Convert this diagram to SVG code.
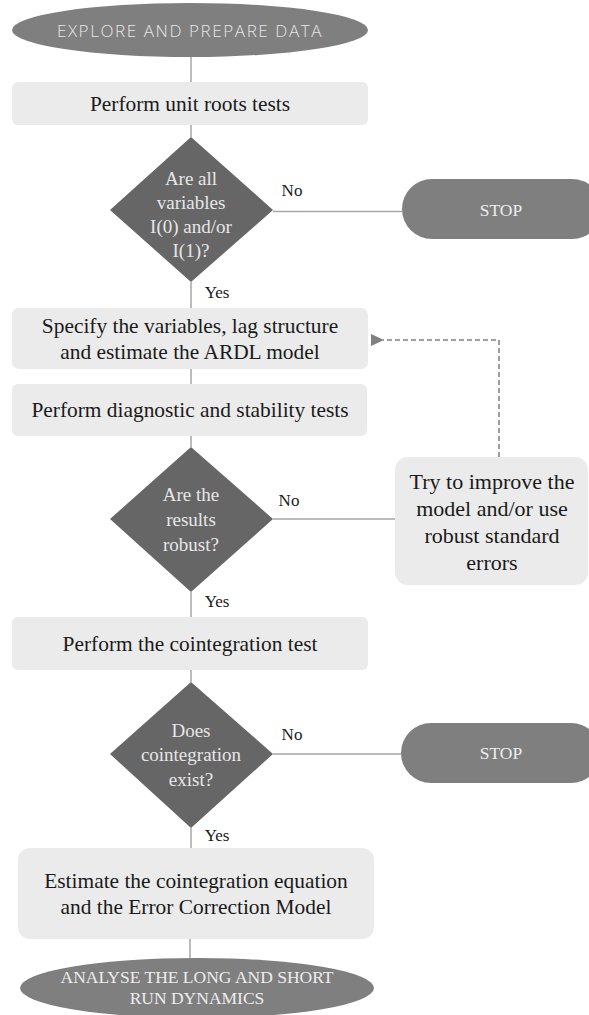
<svg xmlns="http://www.w3.org/2000/svg" width="589" height="1015" viewBox="0 0 589 1015">
<style>
.box{fill:#ebebeb}
.dia{fill:#666666}
.term{fill:#7f7f7f}
.bt{font-family:"Liberation Serif",serif;font-size:21.4px;fill:#1a1a1a;text-anchor:middle;dominant-baseline:central}
.rt{font-family:"Liberation Serif",serif;font-size:22px;fill:#1a1a1a;text-anchor:middle;dominant-baseline:central}
.dt{font-family:"Liberation Serif",serif;font-size:19px;fill:#e6e6e6;text-anchor:middle;dominant-baseline:central}
.tt{font-family:"Liberation Serif",serif;font-size:17.5px;fill:#ededed;text-anchor:middle;dominant-baseline:central}
.st{font-family:"Open Sans","Liberation Sans",sans-serif;font-weight:300;font-size:17px;letter-spacing:1.6px;fill:#e6e6e6;text-anchor:middle;dominant-baseline:central}
.lbl{font-family:"Liberation Serif",serif;font-size:17px;fill:#1a1a1a;text-anchor:middle;dominant-baseline:central}
.ln{stroke:#a6a6a6;stroke-width:1.5;fill:none}
.dash{stroke:#808080;stroke-width:1.5;stroke-dasharray:5 3;fill:none}
</style>
<defs>
<marker id="ah" markerWidth="14" markerHeight="12" refX="1" refY="6" orient="auto-start-reverse" markerUnits="userSpaceOnUse">
<path d="M0,6 L13,0 L13,12 Z" fill="#808080"/>
</marker>
</defs>
<g id="connectors">
<line class="ln" x1="191" y1="57" x2="191" y2="82"/>
<line class="ln" x1="191" y1="125" x2="191" y2="137"/>
<line class="ln" x1="191" y1="282" x2="191" y2="308"/>
<line class="ln" x1="273" y1="211.5" x2="402" y2="211.5"/>
<line class="ln" x1="191" y1="369" x2="191" y2="384"/>
<line class="ln" x1="191" y1="436" x2="191" y2="447"/>
<line class="ln" x1="273" y1="519" x2="395" y2="519"/>
<line class="ln" x1="191" y1="592" x2="191" y2="617"/>
<line class="ln" x1="191" y1="670" x2="191" y2="682"/>
<line class="ln" x1="273" y1="754" x2="401" y2="754"/>
<line class="ln" x1="191" y1="828" x2="191" y2="848"/>
<line class="ln" x1="190" y1="939" x2="190" y2="958"/>
<path class="dash" d="M499,457 L499,340 L383,340" marker-end="url(#ah)"/>
<text class="lbl" x="292" y="190">No</text>
<text class="lbl" x="217" y="292">Yes</text>
<text class="lbl" x="289" y="500">No</text>
<text class="lbl" x="217" y="601">Yes</text>
<text class="lbl" x="292" y="734">No</text>
<text class="lbl" x="217" y="835">Yes</text>
</g>
<g id="start">
<ellipse class="term" cx="190" cy="30" rx="178" ry="27"/>
<text class="st" x="190" y="30">EXPLORE AND PREPARE DATA</text>
</g>
<g id="unit-roots">
<rect class="box" x="12" y="82" width="356" height="43" rx="6"/>
<text class="bt" x="190" y="103.5">Perform unit roots tests</text>
</g>
<g id="decision-integration">
<polygon class="dia" points="191,137 273,210 191,282 110,210"/>
<text class="dt" x="191" y="178">Are all</text>
<text class="dt" x="191" y="202">variables</text>
<text class="dt" x="191" y="226">I(0) and/or</text>
<text class="dt" x="191" y="250">I(1)?</text>
</g>
<g id="stop1">
<rect class="term" x="402" y="179" width="200" height="60" rx="30"/>
<text class="tt" x="501" y="210">STOP</text>
</g>
<g id="specify">
<rect class="box" x="12" y="308" width="356" height="61" rx="7"/>
<text class="bt" x="190" y="325.5">Specify the variables, lag structure</text>
<text class="bt" x="190" y="351.5">and estimate the ARDL model</text>
</g>
<g id="diagnostic">
<rect class="box" x="12" y="384" width="355" height="52" rx="6"/>
<text class="bt" x="190" y="410">Perform diagnostic and stability tests</text>
</g>
<g id="decision-robust">
<polygon class="dia" points="191,447 273,519 191,592 110,519"/>
<text class="dt" x="191" y="494.5">Are the</text>
<text class="dt" x="191" y="519.5">results</text>
<text class="dt" x="191" y="544.5">robust?</text>
</g>
<g id="improve">
<rect class="box" x="395" y="457" width="193" height="128" rx="13"/>
<text class="rt" x="492" y="481">Try to improve the</text>
<text class="rt" x="492" y="508">model and/or use</text>
<text class="rt" x="492" y="535">robust standard</text>
<text class="rt" x="492" y="562">errors</text>
</g>
<g id="cointegration-test">
<rect class="box" x="12" y="617" width="356" height="53" rx="6"/>
<text class="bt" x="190" y="643.5">Perform the cointegration test</text>
</g>
<g id="decision-cointegration">
<polygon class="dia" points="191,682 273,754 191,828 110,754"/>
<text class="dt" x="191" y="730">Does</text>
<text class="dt" x="191" y="754.5">cointegration</text>
<text class="dt" x="191" y="779">exist?</text>
</g>
<g id="stop2">
<rect class="term" x="401" y="723" width="200" height="60" rx="30"/>
<text class="tt" x="501" y="753">STOP</text>
</g>
<g id="estimate">
<rect class="box" x="18" y="848" width="356" height="91" rx="12"/>
<text class="bt" x="196" y="880.5">Estimate the cointegration equation</text>
<text class="bt" x="196" y="906.5">and the Error Correction Model</text>
</g>
<g id="end">
<ellipse class="term" cx="197" cy="988" rx="177" ry="30"/>
<text class="tt" x="197" y="977">ANALYSE THE LONG AND SHORT</text>
<text class="tt" x="197" y="998">RUN DYNAMICS</text>
</g>
</svg>
